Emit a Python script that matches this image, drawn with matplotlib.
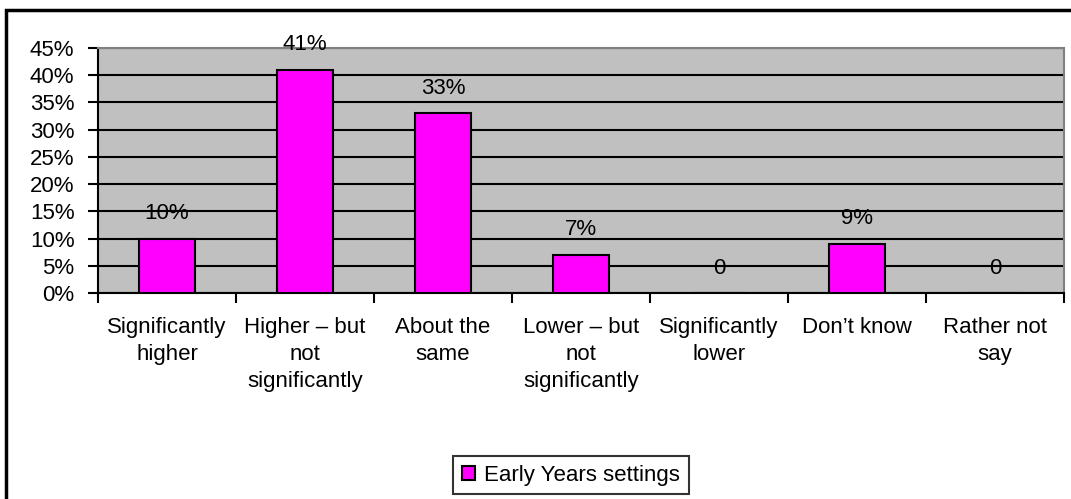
import matplotlib
matplotlib.use("Agg")
import matplotlib.pyplot as plt
from matplotlib.patches import Rectangle
from matplotlib.ticker import FixedLocator, FuncFormatter

# data
categories = [
    "Significantly\nhigher",
    "Higher \u2013 but\nnot\nsignificantly",
    "About the\nsame",
    "Lower \u2013 but\nnot\nsignificantly",
    "Significantly\nlower",
    "Don\u2019t know",
    "Rather not\nsay",
]
values = [10, 41, 33, 7, 0, 9, 0]
series_name = "Early Years settings"
y_ticks = [0, 5, 10, 15, 20, 25, 30, 35, 40, 45]

plt.rcParams['font.family'] = ['Liberation Sans', 'DejaVu Sans']
FS = 16

fig = plt.figure(figsize=(10.71, 4.99), dpi=100)
ax = fig.add_axes([98 / 1071, 1 - 293 / 499, (1064 - 98) / 1071, (293 - 48) / 499])
ax.set_facecolor("#C0C0C0")

x = list(range(len(values)))
bars = ax.bar(x, values, width=0.4, color="#FF00FF", edgecolor="black",
              linewidth=1.5, zorder=3, label=series_name)

for xi, v in zip(x, values):
    txt = f"{v}%" if v else "0"
    ax.annotate(txt, (xi, v), xytext=(0, 18), textcoords="offset points",
                ha="center", va="center", fontsize=FS, zorder=4)

ax.set_xlim(-0.5, len(values) - 0.5)
ax.set_ylim(0, 45)
ax.yaxis.set_major_locator(FixedLocator(y_ticks))
ax.yaxis.set_major_formatter(FuncFormatter(lambda v, p: f"{v:.0f}%"))
ax.grid(axis="y", color="black", linewidth=1.5, zorder=1)
ax.set_axisbelow(True)

ax.set_xticks(x)
ax.set_xticklabels(categories, fontsize=FS, linespacing=1.4)
ax.set_xticks([i - 0.5 for i in range(len(values) + 1)], minor=True)
ax.tick_params(axis="x", which="major", length=0, pad=17)
ax.tick_params(axis="x", which="minor", length=7, width=1.5, direction="out")
ax.tick_params(axis="y", length=7, width=1.5, direction="out", pad=10, labelsize=FS)

for s in ["top", "right"]:
    ax.spines[s].set_color("#808080")
    ax.spines[s].set_linewidth(1.5)
for s in ["left", "bottom"]:
    ax.spines[s].set_color("black")
    ax.spines[s].set_linewidth(1.5)

leg = ax.legend(loc="center", bbox_to_anchor=(571 / 1071, 1 - 475 / 499),
                bbox_transform=fig.transFigure, fontsize=FS, frameon=True,
                fancybox=False, edgecolor="black", handlelength=0.6,
                handleheight=0.6, handletextpad=0.4, borderpad=0.4)
leg.get_frame().set_linewidth(1.5)

# outer chart border, open at right and bottom like the source image
fig.patches.append(Rectangle((6 / 1071, -10 / 499), 1080 / 1071, 499 / 499,
                             transform=fig.transFigure, fill=False,
                             edgecolor="black", linewidth=2.5))

fig.savefig("out.png", dpi=100)
